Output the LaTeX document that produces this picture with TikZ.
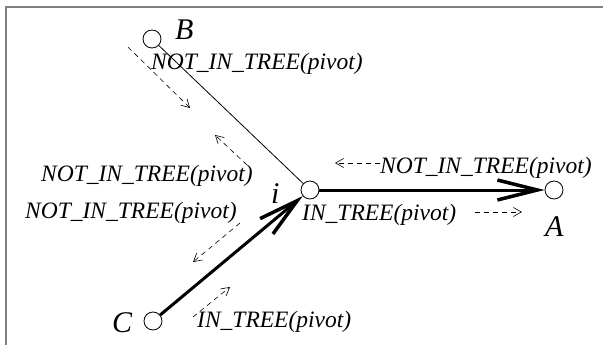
\documentclass[tikz,border=0pt]{standalone}
\usepackage{fontspec}
\setmainfont{Liberation Serif}
\usetikzlibrary{arrows.meta}

\begin{document}
\begin{tikzpicture}[x=1pt,y=-1pt,
    vertex/.style={circle,draw,fill=white,line width=0.8pt,minimum size=18pt,inner sep=0pt},
    lbl/.style={font=\fontsize{23.5}{26}\selectfont\itshape,inner sep=0pt,anchor=base west},
    vname/.style={font=\fontsize{30}{32}\selectfont\itshape,inner sep=0pt,anchor=base west},
    flow/.style={dash pattern=on 5pt off 4pt,line width=0.6pt,-{Straight Barb[length=8pt,width=9pt]}},
    tree/.style={line width=3pt,-{Straight Barb[length=40pt,width=20pt,line width=3.5pt]}}]

    \useasboundingbox (0,0) rectangle (603,345);
    \draw[gray,line width=1.5pt] (6,345) -- (6,7) -- (603,7);

    \node[vertex] (B) at (152,39) {};
    \node[vertex] (i) at (310,190) {};
    \node[vertex] (A) at (554,190) {};
    \node[vertex] (C) at (153,321) {};

    \node[vname] (Bname) at (175,40) {B};
    \node[vname] (iname) at (271,203) {i};
    \node[vname] (Aname) at (545,236) {A};
    \node[vname] (Cname) at (112,332) {C};

    \draw[line width=0.8pt] (B) -- (i);
    \draw[tree] (i) -- (A);
    \draw[tree] (C) -- (i);

    % messages along B--i
    \coordinate (b1) at (128,47);  \coordinate (b2) at (190,108);
    \coordinate (b3) at (247,165); \coordinate (b4) at (215,135);
    \draw[flow] (b1) -- (b2);
    \draw[flow] (b3) -- (b4);
    \node[lbl] (nb1) at (151,70) {NOT\_IN\_TREE(pivot)};
    \node[lbl] (nb2) at (41,181) {NOT\_IN\_TREE(pivot)};

    % messages along C--i
    \coordinate (c1) at (240,223); \coordinate (c2) at (193,262);
    \coordinate (c3) at (193,317); \coordinate (c4) at (230,287);
    \draw[flow] (c1) -- (c2);
    \draw[flow] (c3) -- (c4);
    \node[lbl] (nc1) at (25,218) {NOT\_IN\_TREE(pivot)};
    \node[lbl] (nc2) at (197,327) {IN\_TREE(pivot)};

    % messages along i--A
    \coordinate (a1) at (380,163); \coordinate (a2) at (335,163);
    \coordinate (a3) at (475,212); \coordinate (a4) at (522,212);
    \draw[flow] (a1) -- (a2);
    \draw[flow] (a3) -- (a4);
    \node[lbl] (na1) at (380,173) {NOT\_IN\_TREE(pivot)};
    \node[lbl] (na2) at (302,220) {IN\_TREE(pivot)};
\end{tikzpicture}
\end{document}
